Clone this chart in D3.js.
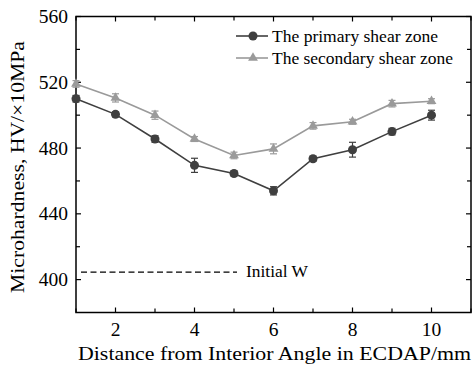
<!DOCTYPE html>
<html><head><meta charset="utf-8">
<script src="https://cdn.jsdelivr.net/npm/d3@7"></script>
<style>body{margin:0;background:#fff}svg{display:block}text{font-family:"Liberation Serif","DejaVu Serif",serif;fill:#000}</style>
</head><body><svg id="c" width="472" height="367"></svg>
<script>
const distances = [1,2,3,4,5,6,7,8,9,10];
const primary = [510, 500.5, 485.5, 469.5, 464.5, 454, 473.5, 479, 490, 500];
const primaryErr = [2, 1.5, 2, 4.3, 1.5, 2.5, 1.5, 4.5, 2, 3];
const secondary = [519, 510.5, 500, 485.5, 475.5, 479.5, 493.5, 496, 507, 508.5];
const secondaryErr = [2, 2.5, 2.5, 1.5, 2, 3, 2, 1.5, 2, 1.5];
const initialW = 404.5;
const xTicks = [2,4,6,8,10];
const xMinor = [1,3,5,7,9,11];
const yTicks = [400,440,480,520,560];
const yMinor = [420,460,500,540];
const seriesNames = ["The primary shear zone","The secondary shear zone"];

const svg = d3.select("#c");
const L=76, R=471, T=16.5, B=312.5;
const x = d3.scaleLinear().domain([1,11]).range([L,R]);
const y = d3.scaleLinear().domain([380,560]).range([B,T]);
const C1="#3f3f3f", C2="#9a9a9a";

svg.append("rect").attr("x",L).attr("y",T).attr("width",R-L).attr("height",B-T)
  .attr("fill","none").attr("stroke","#000").attr("stroke-width",1.5);

const tk = svg.append("g").attr("stroke","#000").attr("stroke-width",1.2);
[...xTicks,...xMinor].forEach(v=>{
  const len = xTicks.includes(v)?5:4;
  tk.append("line").attr("x1",x(v)).attr("x2",x(v)).attr("y1",B).attr("y2",B-len);
  tk.append("line").attr("x1",x(v)).attr("x2",x(v)).attr("y1",T).attr("y2",T+len);
});
[...yTicks,...yMinor].forEach(v=>{
  const len = yTicks.includes(v)?5:4;
  tk.append("line").attr("x1",L).attr("x2",L+len).attr("y1",y(v)).attr("y2",y(v));
  tk.append("line").attr("x1",R).attr("x2",R-len).attr("y1",y(v)).attr("y2",y(v));
});

xTicks.forEach(v=>svg.append("text").attr("x",x(v)).attr("y",336).attr("text-anchor","middle")
  .attr("font-size",19.5).text(v));
yTicks.forEach(v=>svg.append("text").attr("x",68).attr("y",y(v)+6.5).attr("text-anchor","end")
  .attr("font-size",19.5).text(v));

svg.append("text").attr("x",78).attr("y",360).attr("font-size",19.5)
  .attr("textLength",393).attr("lengthAdjust","spacingAndGlyphs")
  .text("Distance from Interior Angle in ECDAP/mm");
svg.append("text").attr("transform","translate(24,293) rotate(-90)")
  .attr("font-size",19).attr("textLength",252).attr("lengthAdjust","spacingAndGlyphs")
  .text("Microhardness, HV/\u00d710MPa");

svg.append("line").attr("x1",x(1)+5).attr("x2",237).attr("y1",y(initialW)).attr("y2",y(initialW))
  .attr("stroke","#000").attr("stroke-width",1.3).attr("stroke-dasharray","6,3.5");
svg.append("text").attr("x",246).attr("y",y(initialW)+5).attr("font-size",16.5)
  .attr("textLength",62).attr("lengthAdjust","spacingAndGlyphs").text("Initial W");

function drawSeries(vals, errs, color, marker){
  const g = svg.append("g");
  const line = d3.line().x((d,i)=>x(distances[i])).y(d=>y(d));
  g.append("path").datum(vals).attr("d",line).attr("fill","none").attr("stroke",color).attr("stroke-width",1.6);
  vals.forEach((v,i)=>{
    const cx=x(distances[i]);
    const y1=y(v+errs[i]), y2=y(v-errs[i]);
    g.append("line").attr("x1",cx).attr("x2",cx).attr("y1",y1).attr("y2",y2).attr("stroke",color).attr("stroke-width",1.2);
    [y1,y2].forEach(yy=>g.append("line").attr("x1",cx-3.5).attr("x2",cx+3.5).attr("y1",yy).attr("y2",yy).attr("stroke",color).attr("stroke-width",1.2));
  });
  vals.forEach((v,i)=>{
    const cx=x(distances[i]), cy=y(v);
    if(marker==="circle") g.append("circle").attr("cx",cx).attr("cy",cy).attr("r",4.5).attr("fill",color);
    else g.append("path").attr("d",d3.symbol(d3.symbolTriangle,42)()).attr("transform",`translate(${cx},${cy})`).attr("fill",color);
  });
}
drawSeries(secondary, secondaryErr, C2, "tri");
drawSeries(primary, primaryErr, C1, "circle");

const leg = [{n:seriesNames[0],c:C1,m:"circle",y:36,w:166},{n:seriesNames[1],c:C2,m:"tri",y:58,w:181}];
leg.forEach(d=>{
  svg.append("line").attr("x1",236).attr("x2",268).attr("y1",d.y).attr("y2",d.y).attr("stroke",d.c).attr("stroke-width",1.6);
  if(d.m==="circle") svg.append("circle").attr("cx",253).attr("cy",d.y).attr("r",4.5).attr("fill",d.c);
  else svg.append("path").attr("d",d3.symbol(d3.symbolTriangle,42)()).attr("transform",`translate(253,${d.y})`).attr("fill",d.c);
  svg.append("text").attr("x",272).attr("y",d.y+5.5).attr("font-size",17)
    .attr("textLength",d.w).attr("lengthAdjust","spacingAndGlyphs").text(d.n);
});
</script></body></html>
